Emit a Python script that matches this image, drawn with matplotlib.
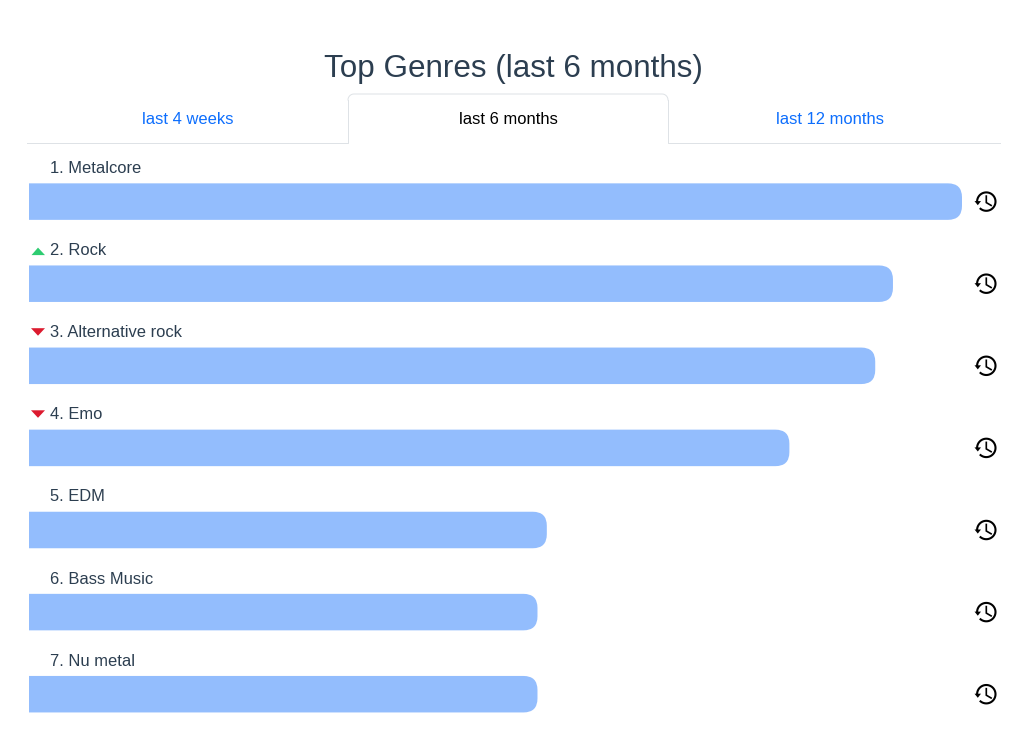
# -*- coding: utf-8 -*-
import numpy as np
import matplotlib
matplotlib.use("Agg")
import matplotlib.pyplot as plt
from matplotlib.patches import FancyBboxPatch, Polygon

W, H = 1025, 734

genres = ["Metalcore", "Rock", "Alternative rock", "Emo", "EDM", "Bass Music", "Nu metal"]
values = [100.0, 92.6, 90.7, 81.5, 55.5, 54.5, 54.5]
changes = [0, 1, -1, -1, 0, 0, 0]
tabs = ["last 4 weeks", "last 6 months", "last 12 months"]

BAR_COLOR = "#93bdfd"
TEXT_COLOR = "#2c3e50"
LINK_COLOR = "#0d6efd"
BORDER = "#dee2e6"
ROW_TOP = 201.6
ROW_STEP = 82.1

plt.rcParams["font.family"] = ["Liberation Sans", "DejaVu Sans"]

fig = plt.figure(figsize=(W / 100, H / 100), dpi=100)

# page layer, in pixels
page = fig.add_axes([0, 0, 1, 1])
page.set_xlim(0, W)
page.set_ylim(H, 0)
page.axis("off")

# bars layer: 100 on the x axis is the full width of the top bar
left, right = 29, 1000
full = 933.0
ax = fig.add_axes([left / W, 0, (right - left) / W, 1])
ax.set_xlim(0, (right - left) / full * 100)
ax.set_ylim((H - ROW_TOP) / ROW_STEP, -ROW_TOP / ROW_STEP)
ax.axis("off")
ax.patch.set_alpha(0)

aspect = (1 / ROW_STEP) / (100 / full)
bar_h = 36.5 / ROW_STEP
for i, v in enumerate(values):
    # starts left of the axes so the left corners get clipped off
    box = FancyBboxPatch((-3, i - bar_h / 2), v + 3, bar_h,
                         boxstyle="round,pad=0,rounding_size=1.5",
                         mutation_aspect=aspect, fc=BAR_COLOR, ec="none")
    ax.add_patch(box)


def arc_points(cx, cy, r, a1, a2):
    # angles in degrees, measured on screen (y goes down)
    a = np.radians(np.linspace(a1, a2, 60))
    return cx + r * np.cos(a), cy + r * np.sin(a)


def draw_icon(cx, cy):
    xs, ys = arc_points(cx + 0.8, cy, 9.2, 175, 495)
    page.plot(xs, ys, color="black", lw=1.5, solid_capstyle="butt")
    page.add_patch(Polygon([(cx - 11, cy - 0.5), (cx - 4.5, cy - 0.5), (cx - 7.7, cy + 3.6)],
                           fc="black", ec="none"))
    page.plot([cx + 0.8, cx + 0.8, cx + 5.6], [cy - 5.5, cy + 1, cy + 3.8],
              color="black", lw=1.2, solid_joinstyle="miter")


for i, (name, change) in enumerate(zip(genres, changes)):
    cy = ROW_TOP + ROW_STEP * i
    ty = cy - 33.1
    page.text(50.5, ty, "{}. {}".format(i + 1, name), fontsize=11.9,
              color=TEXT_COLOR, va="center", ha="left")
    if change > 0:
        page.add_patch(Polygon([(31.5, ty + 4.5), (45, ty + 4.5), (38, ty - 3)],
                               fc="#2ecc71", ec="none"))
    elif change < 0:
        page.add_patch(Polygon([(31, ty - 4.5), (45, ty - 4.5), (38, ty + 3)],
                               fc="#dc1a2e", ec="none"))
    draw_icon(985.5, cy)

page.text(513.5, 69, "Top Genres (last 6 months)", fontsize=22.6,
          color=TEXT_COLOR, ha="center", va="center")

# tab strip
lw = 0.72
page.plot([27, 348, 348], [143, 143, 100], color=BORDER, lw=lw)
page.plot([668, 668, 1000], [100, 143, 143], color=BORDER, lw=lw)
xs, ys = arc_points(354, 100, 6, 180, 270)
xs2, ys2 = arc_points(662, 100, 6, 270, 360)
page.plot(np.r_[xs, xs2], np.r_[ys, ys2], color=BORDER, lw=lw)

tab_x = [187.5, 508.5, 830]
tab_colors = [LINK_COLOR, "black", LINK_COLOR]
for x, label, c in zip(tab_x, tabs, tab_colors):
    page.text(x, 119.5, label, fontsize=11.9, color=c, ha="center", va="center")

fig.savefig("out.png", dpi=100)
